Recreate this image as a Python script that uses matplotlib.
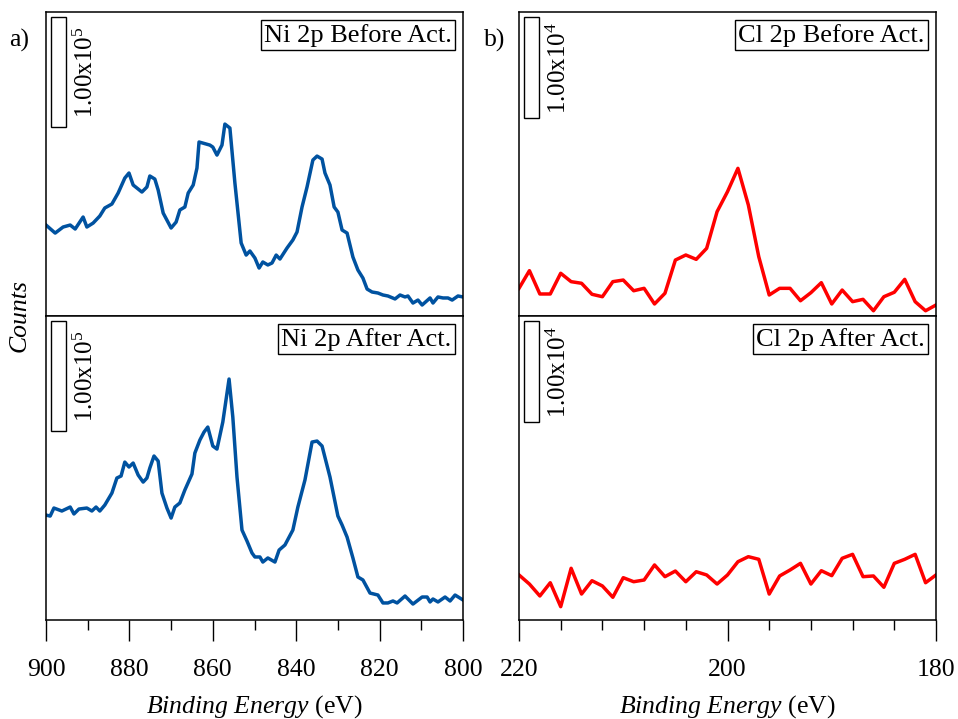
import matplotlib.pyplot as plt
from matplotlib.patches import Rectangle
from matplotlib.transforms import blended_transform_factory

plt.rcParams['font.family'] = ['Liberation Serif', 'DejaVu Serif']
plt.rcParams['mathtext.fontset'] = 'custom'
plt.rcParams['mathtext.rm'] = 'Liberation Serif'
plt.rcParams['mathtext.it'] = 'Liberation Serif:italic'

# Ni 2p, binding energy (eV) and counts in units of 10^3
ni_before_ev = [900.0, 897.8, 895.9, 894.2, 893.0, 891.1, 890.2, 888.7, 887.1, 885.9,
                884.2, 882.7, 881.1, 880.1, 879.1, 877.0, 875.8, 875.1, 873.9, 873.1,
                871.9, 870.0, 868.8, 867.9, 866.7, 865.9, 864.7, 863.8, 863.3, 860.7,
                860.0, 859.0, 857.8, 857.1, 855.9, 854.7, 853.2, 852.0, 851.1, 849.9,
                848.9, 848.0, 846.8, 845.8, 844.8, 843.9, 842.2, 840.8, 839.8, 838.6,
                837.4, 836.0, 835.0, 833.8, 833.1, 831.9, 830.9, 830.0, 829.0, 827.8,
                826.4, 825.2, 824.0, 823.0, 821.8, 820.4, 819.2, 818.0, 816.3, 815.1,
                813.9, 813.2, 812.0, 810.8, 809.8, 807.9, 807.2, 806.0, 804.8, 803.6,
                802.6, 801.2, 800.0]
ni_before_kcts = [82.7, 75.4, 80.9, 82.7, 79.1, 90.0, 80.9, 84.5, 90.9, 98.2,
                  101.8, 111.8, 125.4, 130.0, 119.1, 112.7, 117.3, 127.3, 124.5, 114.5,
                  93.6, 80.0, 85.4, 96.4, 99.1, 111.8, 119.1, 134.5, 158.2, 155.4,
                  153.6, 146.3, 155.4, 174.5, 170.9, 120.9, 66.4, 55.4, 59.1, 52.7,
                  43.6, 49.1, 46.4, 48.2, 55.4, 51.8, 61.8, 69.1, 76.4, 99.1,
                  117.3, 141.8, 145.4, 142.7, 130.0, 119.1, 99.1, 94.5, 78.2, 75.4,
                  53.6, 41.8, 34.5, 24.5, 21.8, 20.9, 19.1, 18.2, 15.5, 19.1,
                  17.3, 18.2, 11.8, 14.5, 10.0, 16.4, 11.8, 17.3, 16.4, 16.4,
                  14.5, 18.2, 17.3]

ni_after_ev = [900.0, 899.0, 898.1, 896.2, 894.2, 893.3, 892.1, 890.2, 889.0, 888.0,
               887.1, 885.9, 884.2, 883.0, 882.0, 881.1, 880.1, 879.1, 877.9, 876.7,
               875.8, 875.1, 874.1, 873.1, 872.2, 871.0, 870.0, 869.1, 867.9, 866.7,
               865.0, 864.3, 863.1, 862.1, 861.2, 860.0, 859.0, 857.6, 856.1, 855.2,
               854.2, 853.0, 851.8, 850.6, 849.9, 848.7, 848.0, 846.8, 845.1, 844.1,
               842.7, 840.8, 839.6, 837.9, 836.2, 835.0, 833.8, 831.9, 830.0, 829.0,
               827.8, 826.4, 825.2, 824.0, 822.3, 820.4, 819.2, 818.0, 816.8, 815.8,
               813.9, 812.0, 809.8, 808.6, 807.9, 807.2, 806.0, 804.3, 803.1, 801.9,
               800.0]
ni_after_kcts = [95.4, 94.5, 101.8, 99.1, 102.7, 96.4, 100.9, 101.8, 99.1, 102.7,
                 99.1, 104.5, 115.4, 129.1, 130.9, 143.6, 139.1, 142.7, 131.8, 125.4,
                 129.1, 138.2, 149.1, 144.5, 115.4, 101.8, 92.7, 102.7, 106.4, 118.2,
                 132.7, 151.8, 163.6, 170.9, 175.4, 158.2, 155.4, 180.0, 219.1, 184.5,
                 130.0, 81.8, 71.8, 60.9, 57.3, 57.3, 52.7, 56.4, 52.7, 63.6,
                 68.2, 81.8, 102.7, 127.3, 161.8, 162.7, 158.2, 130.0, 94.5, 86.4,
                 75.4, 56.4, 39.1, 36.4, 24.5, 22.7, 15.5, 15.5, 17.3, 15.5,
                 21.8, 14.5, 20.9, 20.9, 16.4, 19.1, 16.4, 20.9, 17.3, 22.7,
                 18.2]

# Cl 2p, 1 eV steps from 220 to 180 eV, counts in units of 10^3
cl_ev = list(range(220, 179, -1))
cl_before_kcts = [2.74, 4.49, 2.18, 2.18, 4.23, 3.40, 3.24, 2.15, 1.91, 3.40,
                  3.56, 2.50, 2.74, 1.19, 2.25, 5.54, 6.04, 5.61, 6.70, 10.33,
                  12.31, 14.62, 10.99, 5.87, 2.08, 2.74, 2.74, 1.51, 2.31, 3.30,
                  1.19, 2.57, 1.42, 1.65, 0.52, 1.91, 2.35, 3.63, 1.42, 0.52,
                  1.09]
cl_after_kcts = [4.46, 3.56, 2.38, 3.69, 1.32, 5.12, 2.57, 3.89, 3.37, 2.25,
                 4.19, 3.79, 3.96, 5.45, 4.29, 4.85, 3.79, 4.78, 4.46, 3.56,
                 4.46, 5.77, 6.27, 6.01, 2.57, 4.36, 4.95, 5.61, 3.56, 4.88,
                 4.39, 6.11, 6.50, 4.29, 4.36, 3.24, 5.61, 6.01, 6.50, 3.69,
                 4.46]

ni_ylim = (0, 276.4)
cl_ylim = (0, 30.1)
ni_scale = 100.0   # 1.00x10^5 counts
cl_scale = 10.0    # 1.00x10^4 counts

blue = '#0052a0'
red = '#ff0000'

fig = plt.figure(figsize=(9.58, 7.19), dpi=100)
W, H = 958, 719


def make_ax(x0, y0, x1, y1):
    return fig.add_axes([x0 / W, 1 - y1 / H, (x1 - x0) / W, (y1 - y0) / H])


ax_nb = make_ax(46, 12, 463, 316)
ax_na = make_ax(46, 316, 463, 620)
ax_cb = make_ax(519, 12, 936, 316)
ax_ca = make_ax(519, 316, 936, 620)

panels = [
    (ax_nb, ni_before_ev, ni_before_kcts, blue, ni_ylim, ni_scale, '1.00x10$^{5}$', 'Ni 2p Before Act.', (900, 800)),
    (ax_na, ni_after_ev, ni_after_kcts, blue, ni_ylim, ni_scale, '1.00x10$^{5}$', 'Ni 2p After Act.', (900, 800)),
    (ax_cb, cl_ev, cl_before_kcts, red, cl_ylim, cl_scale, '1.00x10$^{4}$', 'Cl 2p Before Act.', (220, 180)),
    (ax_ca, cl_ev, cl_after_kcts, red, cl_ylim, cl_scale, '1.00x10$^{4}$', 'Cl 2p After Act.', (220, 180)),
]

for ax, x, y, col, ylim, scale, slabel, title, xlim in panels:
    ax.plot(x, y, color=col, lw=2.5, solid_joinstyle='round')
    ax.set_xlim(*xlim)
    ax.set_ylim(*ylim)
    ax.set_yticks([])
    for s in ax.spines.values():
        s.set_linewidth(1.1)
    # scale bar
    trans = blended_transform_factory(ax.transAxes, ax.transData)
    top = ylim[1] - 0.017 * (ylim[1] - ylim[0])
    ax.add_patch(Rectangle((0.012, top - scale), 0.037, scale, transform=trans,
                           facecolor='white', edgecolor='black', lw=1.0, zorder=3))
    ax.text(0.066, top - scale / 2, slabel, transform=trans, rotation=90,
            ha='left', va='center', fontsize=18)
    ax.text(0.973, 0.962, title, transform=ax.transAxes, ha='right', va='top',
            fontsize=19, bbox=dict(boxstyle='square,pad=0.12', fc='white', ec='black', lw=1.0))

for ax in (ax_nb, ax_cb):
    ax.set_xticks([])

ax_na.set_xticks([900, 880, 860, 840, 820, 800])
ax_na.set_xticks([890, 870, 850, 830, 810], minor=True)
ax_ca.set_xticks([220, 200, 180])
ax_ca.set_xticks([216, 212, 208, 204, 196, 192, 188, 184], minor=True)

for ax in (ax_na, ax_ca):
    ax.tick_params(axis='x', which='major', direction='out', length=15, width=1.0,
                   labelsize=18.5, pad=13)
    ax.tick_params(axis='x', which='minor', direction='out', length=7.5, width=1.0)
    ax.set_xlabel(r'$\it{Binding\ Energy}$ (eV)', fontsize=18.5, labelpad=9)

fig.text(20 / W, 1 - 316 / H, 'Counts', rotation=90, ha='center', va='center',
         fontsize=18.5, style='italic')
fig.text(9 / W, 1 - 40 / H, 'a)', ha='left', va='center', fontsize=18.5)
fig.text(484 / W, 1 - 40 / H, 'b)', ha='left', va='center', fontsize=18.5)

fig.savefig('out.png', dpi=100)
